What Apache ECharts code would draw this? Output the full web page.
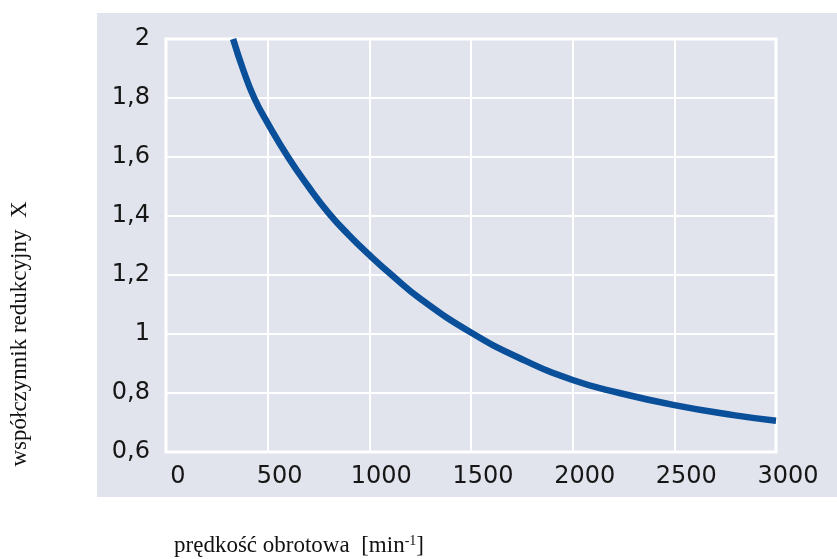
<!DOCTYPE html>
<html>
<head>
<meta charset="utf-8">
<script src="https://cdn.jsdelivr.net/npm/echarts@6/dist/echarts.min.js"></script>
<style>
html,body{margin:0;padding:0;background:#fff;}
#chart{width:837px;height:559px;}
</style>
</head>
<body>
<div id="chart"></div>
<script>
const speed = [330, 380, 434, 500, 600, 700, 800, 900, 1000, 1110, 1250, 1500, 1740, 2000, 2230, 2500, 2790, 3000];
const factor = [2.0, 1.895, 1.8, 1.715, 1.6, 1.5, 1.41, 1.335, 1.268, 1.2, 1.12, 1.005, 0.918, 0.844, 0.80, 0.759, 0.725, 0.706];
const xTicks = [0, 500, 1000, 1500, 2000, 2500, 3000];
const yTicks = [0.6, 0.8, 1, 1.2, 1.4, 1.6, 1.8, 2];
const xTitle = 'prędkość obrotowa  [min{sup|-1}]';
const yTitle = 'współczynnik redukcyjny  X';

const chart = echarts.init(document.getElementById('chart'), null, {renderer: 'canvas'});
const points = speed.map((s, i) => [s, factor[i]]);
const labelFont = 'DejaVu Sans';

chart.setOption({
  backgroundColor: '#ffffff',
  animation: false,
  graphic: [
    {type: 'rect', left: 97, top: 13, z: -10, shape: {width: 740, height: 484}, style: {fill: '#e1e4ed'}},
    {type: 'text', x: 299, y: 546, z: 10, style: {
      text: xTitle, font: '23px "Liberation Serif"', fill: '#111', align: 'center', verticalAlign: 'middle',
      rich: {sup: {fontSize: 14, fontFamily: 'Liberation Serif', fill: '#111', verticalAlign: 'top', padding: [0, 0, 10, 0]}}
    }},
    {type: 'text', x: 20, y: 334, rotation: Math.PI / 2, z: 10, style: {
      text: yTitle, font: '23px "Liberation Serif"', fill: '#111', align: 'center', verticalAlign: 'middle'
    }}
  ],
  grid: {left: 166, right: 61, top: 39, bottom: 107, show: true, borderColor: '#ffffff', borderWidth: 3, backgroundColor: 'transparent'},
  xAxis: {
    type: 'value', min: 0, max: 3000, interval: 500,
    axisLine: {show: false}, axisTick: {show: false},
    splitLine: {show: true, lineStyle: {color: '#ffffff', width: 2}},
    axisLabel: {
      margin: 13, fontSize: 24, fontFamily: labelFont, color: '#161616', padding: [0, 0, 0, 24],
      formatter: v => xTicks.includes(v) ? String(v) : ''
    }
  },
  yAxis: {
    type: 'value', min: 0.6, max: 2, interval: 0.2,
    axisLine: {show: false}, axisTick: {show: false},
    splitLine: {show: true, lineStyle: {color: '#ffffff', width: 2}},
    axisLabel: {
      margin: 16, fontSize: 24, fontFamily: labelFont, color: '#161616', padding: [0, 0, 12, 0],
      formatter: v => {
        const t = yTicks.find(y => Math.abs(y - v) < 1e-6);
        return t === undefined ? '' : String(t).replace('.', ',');
      }
    }
  },
  series: [{
    type: 'line', data: points, smooth: 0.5, symbol: 'none',
    lineStyle: {color: '#0a4f9a', width: 6.5, cap: 'butt'}, z: 5
  }]
});
</script>
</body>
</html>
